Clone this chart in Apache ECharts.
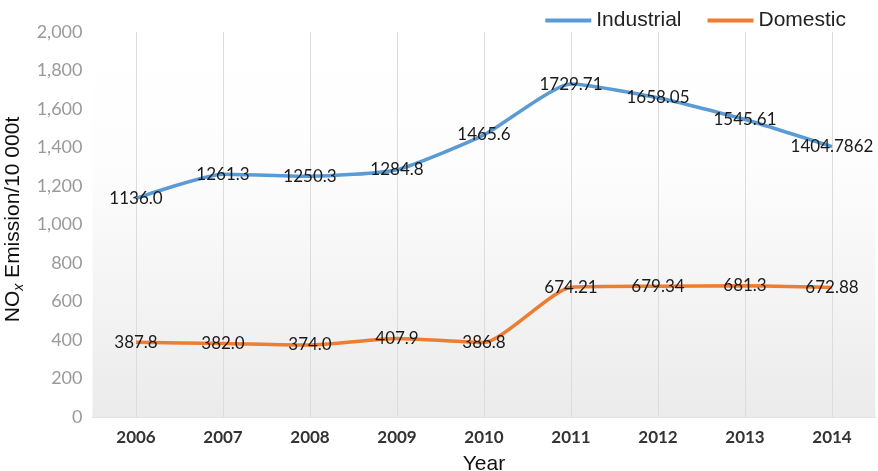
<!DOCTYPE html>
<html>
<head>
<meta charset="utf-8">
<script src="https://cdn.jsdelivr.net/npm/echarts@6/dist/echarts.min.js"></script>
<style>
  html, body { margin: 0; padding: 0; background: #ffffff; }
  #chart { width: 878px; height: 471px; }
</style>
</head>
<body>
<div id="chart"></div>
<script>
// NOx emissions by source, 2006–2014 (unit: 10 000 t)
const years = ['2006', '2007', '2008', '2009', '2010', '2011', '2012', '2013', '2014'];
const industrial = [1136.0, 1261.3, 1250.3, 1284.8, 1465.6, 1729.71, 1658.05, 1545.61, 1404.7862];
const domestic = [387.8, 382.0, 374.0, 407.9, 386.8, 674.21, 679.34, 681.3, 672.88];
// Label text exactly as printed beside each point
const industrialLabels = ['1136.0', '1261.3', '1250.3', '1284.8', '1465.6', '1729.71', '1658.05', '1545.61', '1404.7862'];
const domesticLabels = ['387.8', '382.0', '374.0', '407.9', '386.8', '674.21', '679.34', '681.3', '672.88'];

const chart = echarts.init(document.getElementById('chart'), null, { renderer: 'canvas' });

function withThousands(v) {
  return String(v).replace(/\B(?=(\d{3})+(?!\d))/g, ',');
}

function lineSeries(name, values, labels, color) {
  return {
    name: name,
    type: 'line',
    data: values,
    smooth: 0.18,
    symbol: 'circle',
    symbolSize: 0,
    lineStyle: { color: color, width: 3.5 },
    itemStyle: { color: color },
    label: {
      show: true,
      position: 'inside',
      fontFamily: 'Lato',
      fontSize: 17,
      color: '#1a1a1a',
      formatter: function (p) { return labels[p.dataIndex]; }
    },
    emphasis: { disabled: true }
  };
}

chart.setOption({
  animation: false,
  backgroundColor: '#ffffff',
  legend: {
    top: 5,
    right: 27,
    icon: 'rect',
    itemWidth: 46,
    itemHeight: 4,
    itemGap: 26,
    textStyle: { fontFamily: 'Liberation Sans', fontSize: 21, color: '#222222' },
    data: ['Industrial', 'Domestic']
  },
  grid: {
    left: 92.5,
    right: 2.5,
    top: 32,
    bottom: 54,
    outerBoundsMode: 'none',
    containLabel: false,
    show: true,
    borderWidth: 0,
    backgroundColor: {
      type: 'linear', x: 0, y: 0, x2: 0, y2: 1,
      colorStops: [
        { offset: 0, color: '#ffffff' },
        { offset: 0.35, color: '#fdfdfd' },
        { offset: 1, color: '#ebebeb' }
      ]
    }
  },
  xAxis: {
    type: 'category',
    data: years,
    boundaryGap: true,
    name: 'Year',
    nameLocation: 'middle',
    nameGap: 37,
    nameTextStyle: { fontFamily: 'Liberation Sans', fontSize: 21, color: '#111111' },
    axisLine: { show: true, lineStyle: { color: '#e2e2e2', width: 1 } },
    axisTick: { show: false },
    axisLabel: {
      fontFamily: 'Lato',
      fontWeight: 'bold',
      fontSize: 17,
      color: '#333333',
      margin: 12
    },
    splitLine: {
      show: true,
      alignWithLabel: true,
      lineStyle: { color: '#dcdcdc', width: 1 }
    }
  },
  yAxis: {
    type: 'value',
    min: 0,
    max: 2000,
    interval: 200,
    name: '{m|NO}{s|x}{m| Emission/10 000t}',
    nameLocation: 'middle',
    nameGap: 60,
    nameRotate: 90,
    nameTextStyle: {
      padding: [0, 0, 0, 10],
      rich: {
        m: { fontFamily: 'Liberation Sans', fontSize: 21, color: '#111111', lineHeight: 26 },
        s: { fontFamily: 'Liberation Sans', fontSize: 14, fontStyle: 'italic', color: '#111111', lineHeight: 14, verticalAlign: 'bottom' }
      }
    },
    axisLine: { show: false },
    axisTick: { show: false },
    splitLine: { show: false },
    axisLabel: {
      fontFamily: 'Lato',
      fontSize: 18,
      color: '#9a9a9a',
      margin: 10,
      formatter: withThousands
    }
  },
  series: [
    lineSeries('Industrial', industrial, industrialLabels, '#5b9bd5'),
    lineSeries('Domestic', domestic, domesticLabels, '#ed7d31')
  ]
});
</script>
</body>
</html>
